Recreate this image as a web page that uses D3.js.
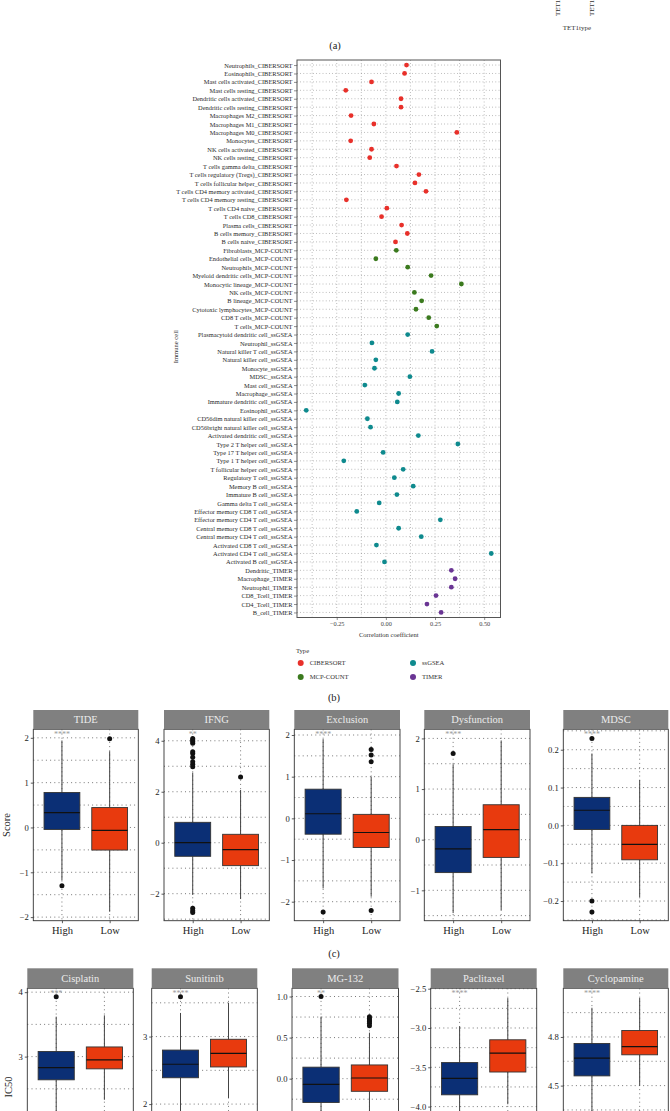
<!DOCTYPE html>
<html><head><meta charset="utf-8">
<script src="https://cdn.jsdelivr.net/npm/d3@7"></script>
<style>
body{margin:0;background:#fff}
svg{display:block}
text{font-family:"Liberation Serif","Times New Roman",serif}
</style>
</head><body>
<svg id="chart" width="670" height="1111"></svg>
<script>
// ---------------- Panel (b) data ----------------
const cibersortCells = ["Neutrophils_CIBERSORT","Eosinophils_CIBERSORT","Mast cells activated_CIBERSORT","Mast cells resting_CIBERSORT","Dendritic cells activated_CIBERSORT","Dendritic cells resting_CIBERSORT","Macrophages M2_CIBERSORT","Macrophages M1_CIBERSORT","Macrophages M0_CIBERSORT","Monocytes_CIBERSORT","NK cells activated_CIBERSORT","NK cells resting_CIBERSORT","T cells gamma delta_CIBERSORT","T cells regulatory (Tregs)_CIBERSORT","T cells follicular helper_CIBERSORT","T cells CD4 memory activated_CIBERSORT","T cells CD4 memory resting_CIBERSORT","T cells CD4 naive_CIBERSORT","T cells CD8_CIBERSORT","Plasma cells_CIBERSORT","B cells memory_CIBERSORT","B cells naive_CIBERSORT"];
const cibersortValues = [0.105,0.095,-0.073,-0.204,0.077,0.077,-0.177,-0.061,0.361,-0.179,-0.073,-0.082,0.054,0.168,0.148,0.204,-0.201,0.005,-0.022,0.080,0.109,0.049];
const mcpCells = ["Fibroblasts_MCP-COUNT","Endothelial cells_MCP-COUNT","Neutrophils_MCP-COUNT","Myeloid dendritic cells_MCP-COUNT","Monocytic lineage_MCP-COUNT","NK cells_MCP-COUNT","B lineage_MCP-COUNT","Cytotoxic lymphocytes_MCP-COUNT","CD8 T cells_MCP-COUNT","T cells_MCP-COUNT"];
const mcpValues = [0.053,-0.051,0.111,0.230,0.384,0.145,0.182,0.153,0.218,0.259];
const ssgseaCells = ["Plasmacytoid dendritic cell_ssGSEA","Neutrophil_ssGSEA","Natural killer T cell_ssGSEA","Natural killer cell_ssGSEA","Monocyte_ssGSEA","MDSC_ssGSEA","Mast cell_ssGSEA","Macrophage_ssGSEA","Immature dendritic cell_ssGSEA","Eosinophil_ssGSEA","CD56dim natural killer cell_ssGSEA","CD56bright natural killer cell_ssGSEA","Activated dendritic cell_ssGSEA","Type 2 T helper cell_ssGSEA","Type 17 T helper cell_ssGSEA","Type 1 T helper cell_ssGSEA","T follicular helper cell_ssGSEA","Regulatory T cell_ssGSEA","Memory B cell_ssGSEA","Immature B cell_ssGSEA","Gamma delta T cell_ssGSEA","Effector memory CD8 T cell_ssGSEA","Effector memory CD4 T cell_ssGSEA","Central memory CD8 T cell_ssGSEA","Central memory CD4 T cell_ssGSEA","Activated CD8 T cell_ssGSEA","Activated CD4 T cell_ssGSEA","Activated B cell_ssGSEA"];
const ssgseaValues = [0.111,-0.071,0.235,-0.051,-0.058,0.122,-0.107,0.065,0.058,-0.405,-0.094,-0.078,0.165,0.366,-0.014,-0.214,0.088,0.043,0.139,0.056,-0.034,-0.148,0.277,0.065,0.180,-0.048,0.536,-0.007];
const timerCells = ["Dendritic_TIMER","Macrophage_TIMER","Neutrophil_TIMER","CD8_Tcell_TIMER","CD4_Tcell_TIMER","B_cell_TIMER"];
const timerValues = [0.333,0.352,0.333,0.255,0.209,0.281];
const typeNames = ["CIBERSORT","MCP-COUNT","ssGSEA","TIMER"];
const typeColors = ["#E8302A","#3B7A1E","#0E8A8E","#6A3594"];
const corrTicks = [-0.25,0,0.25,0.5];

// ---------------- Panel (c) data ----------------
const groups = ["High","Low"];
const groupColors = ["#0B2F75","#E83A0E"];
const scoreFacets = ["TIDE","IFNG","Exclusion","Dysfunction","MDSC"];
// [lower whisker, Q1, median, Q3, upper whisker]
const scoreHigh = [[-1.18,-0.044,0.333,0.78,1.94],[-2.05,-0.533,0.0,0.80,2.75],[-1.68,-0.38,0.11,0.70,1.90],[-1.45,-0.65,-0.18,0.26,1.49],[-0.127,-0.011,0.040,0.074,0.19]];
const scoreLow = [[-1.88,-0.504,-0.067,0.444,1.70],[-2.21,-0.90,-0.27,0.33,2.07],[-1.88,-0.70,-0.34,0.096,1.0],[-1.39,-0.35,0.20,0.69,1.96],[-0.19,-0.091,-0.050,0.0,0.12]];
const scoreHighOut = [[-1.30],[2.98,3.08,3.18,3.35,3.5,3.57,3.9,3.97,4.03,4.09,-2.57,-2.67,-2.74],[-2.25],[1.70],[0.23,-0.20,-0.229]];
const scoreLowOut = [[1.98],[2.58],[1.65,1.52,1.36,-2.21],[],[]];
const scoreSig = ["****","**","****","****","****"];
const scoreLimits = [[-2.08,2.19],[-3.06,4.45],[-2.456,2.137],[-1.60,2.18],[-0.252,0.254]];
const scoreTicks = [[-2,-1,0,1,2],[-2,0,2,4],[-2,-1,0,1,2],[-1,0,1,2],[-0.2,-0.1,0,0.1,0.2]];

// ---------------- Panel (d) data ----------------
const drugFacets = ["Cisplatin","Sunitinib","MG-132","Paclitaxel","Cyclopamine"];
const drugHigh = [[2.0,2.64,2.83,3.08,3.62],[1.8,2.39,2.59,2.80,3.35],[-0.9,-0.29,-0.07,0.14,0.755],[-4.4,-3.85,-3.64,-3.44,-2.98],[4.3,4.56,4.67,4.76,4.98]];
const drugLow = [[2.33,2.81,2.95,3.15,3.64],[2.09,2.55,2.75,2.96,3.50],[-0.6,-0.154,0.008,0.167,0.56],[-3.97,-3.56,-3.32,-3.15,-2.62],[4.50,4.69,4.74,4.84,5.04]];
const drugHighOut = [[3.93],[3.59],[1.0],[],[]];
const drugLowOut = [[],[],[0.755,0.735,0.715,0.695,0.675,0.645],[],[]];
const drugSig = ["***","****","**","****","****"];
const drugLimits = [[1.09,4.06],[0.88,3.715],[-1.23,1.10],[-4.93,-2.495],[3.92,5.10]];
const drugTicks = [[1,2,3,4],[1,2,3],[-1,-0.5,0,0.5,1],[-4.5,-4,-3.5,-3,-2.5],[4.2,4.5,4.8]];

// ================= drawing =================
const W = 670, H = 1111;
const svg = d3.select("#chart");

// ---- top fragment of panel (a) ----
svg.append("text").attr("x",335).attr("y",49).attr("text-anchor","middle").attr("font-size",10.5).attr("fill","#222").text("(a)");
svg.append("text").attr("x",577).attr("y",30).attr("text-anchor","middle").attr("font-size",7).attr("fill","#333").text("TET1type");
[["TET1",560],["TET1",594]].forEach(([t,xx])=>{
  svg.append("text").attr("transform",`translate(${xx},16) rotate(-90)`).attr("font-size",7).attr("fill","#333").text(t);
});

// ---- panel (b) dot plot ----
const rows = [];
[[cibersortCells,cibersortValues,0],[mcpCells,mcpValues,1],[ssgseaCells,ssgseaValues,2],[timerCells,timerValues,3]]
  .forEach(([cells,vals,t])=>cells.forEach((c,i)=>rows.push({cell:c,value:vals[i],type:t})));

const dp = {left:297, right:500.5, top:60, bottom:617.5};
const ext = d3.extent(rows,d=>d.value);
const pad = (ext[1]-ext[0])*0.05;
const xC = d3.scaleLinear().domain([ext[0]-pad, ext[1]+pad]).range([dp.left, dp.right]);
const yC = d3.scalePoint().domain(rows.map(d=>d.cell)).range([dp.top, dp.bottom]).padding(0.6);

const gB = svg.append("g");
const vgrid = d3.range(-0.375,0.5001,0.125).filter(v=>v>=xC.domain()[0]&&v<=xC.domain()[1]);
gB.append("g").selectAll("line").data(vgrid).join("line")
  .attr("x1",d=>xC(d)).attr("x2",d=>xC(d)).attr("y1",dp.top).attr("y2",dp.bottom)
  .attr("stroke","#777").attr("stroke-width",0.6).attr("stroke-dasharray","0.8,2.4");
gB.append("g").selectAll("line").data(rows).join("line")
  .attr("x1",dp.left).attr("x2",dp.right).attr("y1",d=>yC(d.cell)).attr("y2",d=>yC(d.cell))
  .attr("stroke","#777").attr("stroke-width",0.6).attr("stroke-dasharray","0.8,2.4");
gB.append("g").selectAll("circle").data(rows).join("circle")
  .attr("cx",d=>xC(d.value)).attr("cy",d=>yC(d.cell)).attr("r",2.4)
  .attr("fill",d=>typeColors[d.type]);
gB.append("rect").attr("x",dp.left).attr("y",dp.top).attr("width",dp.right-dp.left).attr("height",dp.bottom-dp.top)
  .attr("fill","none").attr("stroke","#555").attr("stroke-width",1);
const yAx = gB.append("g").attr("transform",`translate(${dp.left},0)`)
  .call(d3.axisLeft(yC).tickSize(3).tickPadding(1.5));
yAx.select(".domain").remove();
yAx.selectAll("line").attr("stroke","#444").attr("stroke-width",0.6);
yAx.selectAll("text").attr("font-size",6.4).attr("font-family","'Liberation Serif',serif").attr("fill","#2a2a2a");
const xAx = gB.append("g").attr("transform",`translate(0,${dp.bottom})`)
  .call(d3.axisBottom(xC).tickValues(corrTicks).tickFormat(d3.format(".2f")).tickSize(2.5).tickPadding(2));
xAx.select(".domain").remove();
xAx.selectAll("line").attr("stroke","#444").attr("stroke-width",0.6);
xAx.selectAll("text").attr("font-size",6.3).attr("font-family","'Liberation Serif',serif").attr("fill","#444");
gB.append("text").attr("x",(dp.left+dp.right)/2-10).attr("y",637).attr("text-anchor","middle")
  .attr("font-size",6.6).attr("fill","#333").text("Correlation coefficient");
gB.append("text").attr("transform",`translate(178,${(dp.top+dp.bottom)/2+8}) rotate(-90)`).attr("text-anchor","middle")
  .attr("font-size",6.6).attr("fill","#333").text("Immune cell");
const lg = gB.append("g");
lg.append("text").attr("x",296).attr("y",653).attr("font-size",6.6).attr("fill","#333").text("Type");
typeNames.forEach((t,i)=>{
  const lx = i<2 ? 300.7 : 413, ly = (i%2===0) ? 663 : 677;
  lg.append("circle").attr("cx",lx).attr("cy",ly).attr("r",3).attr("fill",typeColors[i]);
  lg.append("text").attr("x",lx+9).attr("y",ly+2.3).attr("font-size",6.6).attr("fill","#333").text(t);
});
svg.append("text").attr("x",334).attr("y",700.5).attr("text-anchor","middle").attr("font-size",10.5).attr("fill","#222").text("(b)");

// ---- box facets ----
function drawFacet(o){
  const panelTop = o.stripTop + o.stripH;
  const g = svg.append("g");
  const x = d3.scalePoint().domain(groups).range([o.x0,o.x1]).padding(0.6);
  const y = d3.scaleLinear().domain(o.limits).range([o.panelBottom, panelTop]);
  const bw = x.step()*0.75;
  g.append("rect").attr("x",o.x0).attr("y",panelTop).attr("width",o.x1-o.x0).attr("height",o.panelBottom-panelTop).attr("fill","#fff");
  const step = o.ticks[1]-o.ticks[0];
  const [lo,hi] = o.limits;
  const major = o.ticks.filter(t=>t>=lo-1e-9&&t<=hi+1e-9);
  const minor = o.ticks.map(t=>t-step/2).concat([o.ticks[o.ticks.length-1]+step/2]).filter(t=>t>=lo&&t<=hi);
  const gridStyle = sel=>sel.attr("stroke","#555").attr("stroke-width",0.8).attr("stroke-dasharray","1,3.2");
  g.append("g").selectAll("line").data(major.concat(minor)).join("line")
    .attr("x1",o.x0).attr("x2",o.x1).attr("y1",d=>y(d)).attr("y2",d=>y(d)).call(gridStyle);
  g.append("g").selectAll("line").data(groups).join("line")
    .attr("x1",d=>x(d)).attr("x2",d=>x(d)).attr("y1",panelTop).attr("y2",o.panelBottom).call(gridStyle);
  const stats = [o.high,o.low], outs = [o.highOut,o.lowOut];
  groups.forEach((grp,i)=>{
    const s = stats[i], cx = x(grp);
    g.append("line").attr("x1",cx).attr("x2",cx).attr("y1",y(s[0])).attr("y2",y(s[1])).attr("stroke","#444").attr("stroke-width",1);
    g.append("line").attr("x1",cx).attr("x2",cx).attr("y1",y(s[3])).attr("y2",y(s[4])).attr("stroke","#444").attr("stroke-width",1);
    g.append("rect").attr("x",cx-bw/2).attr("y",y(s[3])).attr("width",bw).attr("height",y(s[1])-y(s[3]))
      .attr("fill",groupColors[i]).attr("stroke","#333").attr("stroke-width",0.9);
    g.append("line").attr("x1",cx-bw/2).attr("x2",cx+bw/2).attr("y1",y(s[2])).attr("y2",y(s[2])).attr("stroke","#111").attr("stroke-width",1.2);
    g.append("g").selectAll("circle").data(outs[i]).join("circle")
      .attr("cx",cx).attr("cy",d=>y(d)).attr("r",2.5).attr("fill","#111");
  });
  g.append("text").attr("x",x("High")).attr("y",panelTop+8).attr("text-anchor","middle")
    .attr("font-size",8).attr("fill","#9a9a9a").text(o.sig);
  g.append("rect").attr("x",o.x0).attr("y",panelTop).attr("width",o.x1-o.x0).attr("height",o.panelBottom-panelTop)
    .attr("fill","none").attr("stroke","#333").attr("stroke-width",0.9);
  g.append("rect").attr("x",o.x0).attr("y",o.stripTop).attr("width",o.x1-o.x0).attr("height",o.stripH).attr("fill","#808080");
  g.append("text").attr("x",(o.x0+o.x1)/2).attr("y",o.stripTop+o.stripH/2+3.6).attr("text-anchor","middle")
    .attr("font-size",10.5).attr("fill","#ececec").text(o.name);
  // y axis: only ticks whose label lies within the picture
  const dec = Number.isInteger(step)?0:1;
  const visible = major.filter(t=>y(t) <= H-3);
  const ya = g.append("g").attr("transform",`translate(${o.x0},0)`)
    .call(d3.axisLeft(y).tickValues(visible).tickFormat(d3.format(`.${dec}f`)).tickSize(2.5).tickPadding(2));
  ya.select(".domain").remove();
  ya.selectAll("line").attr("stroke","#333").attr("stroke-width",0.8);
  ya.selectAll("text").attr("font-size",8.6).attr("font-family","'Liberation Serif',serif").attr("fill","#222");
  if (o.showX) {
    const xa = g.append("g").attr("transform",`translate(0,${o.panelBottom})`)
      .call(d3.axisBottom(x).tickSize(2.5).tickPadding(3));
    xa.select(".domain").remove();
    xa.selectAll("line").attr("stroke","#333").attr("stroke-width",0.8);
    xa.selectAll("text").attr("font-size",10.5).attr("font-family","'Liberation Serif',serif").attr("fill","#222");
  }
}

const cPanels = [[33.3,138.3],[164,269.3],[294.3,400],[424.3,530],[563.3,668.3]];
scoreFacets.forEach((f,i)=>drawFacet({
  x0:cPanels[i][0], x1:cPanels[i][1], stripTop:710, stripH:19.3, panelBottom:920.7,
  name:f, high:scoreHigh[i], low:scoreLow[i], highOut:scoreHighOut[i], lowOut:scoreLowOut[i],
  limits:scoreLimits[i], ticks:scoreTicks[i], sig:scoreSig[i], showX:true
}));
svg.append("text").attr("transform","translate(10,825) rotate(-90)").attr("text-anchor","middle")
  .attr("font-size",10.5).attr("fill","#222").text("Score");
svg.append("text").attr("x",334).attr("y",957).attr("text-anchor","middle").attr("font-size",10.5).attr("fill","#222").text("(c)");

const dPanels = [[27.3,133.3],[151.7,257.3],[292,398.5],[430.7,536.7],[563.3,668.3]];
drugFacets.forEach((f,i)=>drawFacet({
  x0:dPanels[i][0], x1:dPanels[i][1], stripTop:968.3, stripH:20, panelBottom:1179.7,
  name:f, high:drugHigh[i], low:drugLow[i], highOut:drugHighOut[i], lowOut:drugLowOut[i],
  limits:drugLimits[i], ticks:drugTicks[i], sig:drugSig[i], showX:false
}));
svg.append("text").attr("transform","translate(12,1087) rotate(-90)").attr("text-anchor","middle")
  .attr("font-size",10.5).attr("fill","#222").text("IC50");
</script>
</body></html>
